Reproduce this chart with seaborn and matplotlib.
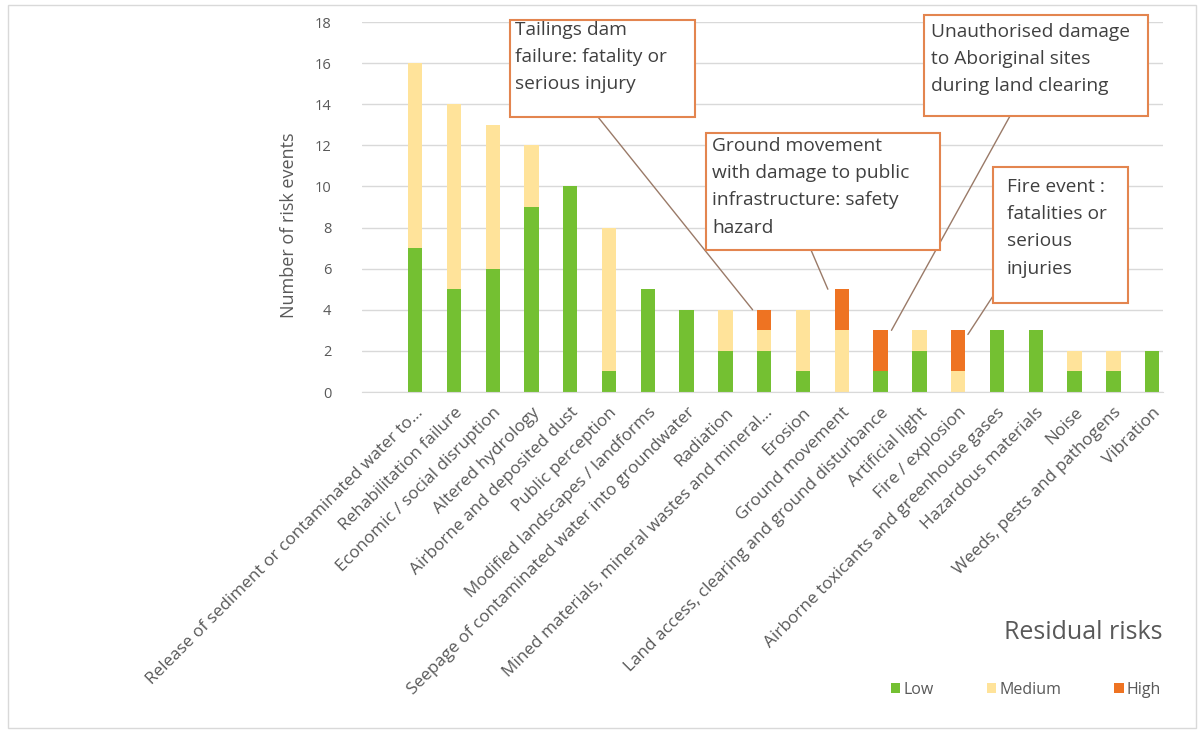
import pandas as pd
import matplotlib.pyplot as plt
import seaborn as sns
from matplotlib.patches import Rectangle

# Residual risk counts per risk category
categories = [
    "Release of sediment or contaminated water to…",
    "Rehabilitation failure",
    "Economic / social disruption",
    "Altered hydrology",
    "Airborne and deposited dust",
    "Public perception",
    "Modified landscapes / landforms",
    "Seepage of contaminated water into groundwater",
    "Radiation",
    "Mined materials, mineral wastes and mineral…",
    "Erosion",
    "Ground movement",
    "Land access, clearing and ground disturbance",
    "Artificial light",
    "Fire / explosion",
    "Airborne toxicants and greenhouse gases",
    "Hazardous materials",
    "Noise",
    "Weeds, pests and pathogens",
    "Vibration",
]
low = [7, 5, 6, 9, 10, 1, 5, 4, 2, 2, 1, 0, 1, 2, 0, 3, 3, 1, 1, 2]
medium = [9, 9, 7, 3, 0, 7, 0, 0, 2, 1, 3, 3, 0, 1, 1, 0, 0, 1, 1, 0]
high = [0, 0, 0, 0, 0, 0, 0, 0, 0, 1, 0, 2, 2, 0, 2, 0, 0, 0, 0, 0]

callout_texts = [
    "Tailings dam\nfailure: fatality or\nserious injury",
    "Ground movement\nwith damage to public\ninfrastructure: safety\nhazard",
    "Unauthorised damage\nto Aboriginal sites\nduring land clearing",
    "Fire event :\nfatalities or\nserious\ninjuries",
]
callout_bars = [9, 11, 12, 14]

df = pd.DataFrame({"category": categories, "Low": low, "Medium": medium, "High": high})
df["lm"] = df["Low"] + df["Medium"]
df["total"] = df["lm"] + df["High"]

c_low, c_med, c_high = "#74c032", "#ffe39a", "#ee7322"
grey = "#595959"

sns.set_style("white")
plt.rcParams["font.family"] = ["Open Sans", "DejaVu Sans"]

W, H = 1200, 734
fig = plt.figure(figsize=(12, 7.34), dpi=100)
ax = fig.add_axes([362 / W, 1 - 392 / H, 801 / W, 370 / H])

# stacked bars drawn back to front
kw = dict(data=df, x="category", width=0.37, saturation=1, linewidth=0, ax=ax)
sns.barplot(y="total", color=c_high, label="High", **kw)
sns.barplot(y="lm", color=c_med, label="Medium", **kw)
sns.barplot(y="Low", color=c_low, label="Low", **kw)
handles, labels = ax.get_legend_handles_labels()
if ax.get_legend() is not None:
    ax.get_legend().remove()

ax.set_ylim(0, 18)
ax.set_yticks(range(0, 19, 2))
ax.set_xlim(-1.37, 19.28)
ax.yaxis.grid(True, color="#d9d9d9", linewidth=1)
ax.set_axisbelow(True)
for s in ["top", "right", "left"]:
    ax.spines[s].set_visible(False)
ax.spines["bottom"].set_color("#d9d9d9")
ax.tick_params(axis="x", length=0, colors=grey, labelsize=12.3, pad=9)
ax.tick_params(axis="y", length=0, colors=grey, labelsize=10.5, pad=22)
plt.setp(ax.get_xticklabels(), rotation=45, ha="right", rotation_mode="anchor")
ax.set_xlabel("")
ax.set_ylabel("Number of risk events", fontsize=13, color=grey)
ax.yaxis.set_label_coords(-0.08, 0.45)

# callout boxes (pixel extents from the reference) and leader lines
boxes = [(510, 20, 695, 117), (706, 133, 940, 250), (924, 15, 1148, 116), (993, 167, 1128, 303)]
text_pad = [(5, 1), (6, 4), (7, 8), (14, 11)]
line_from = [(598, 117), (811, 250), (1010, 116), (993, 296)]
line_to = [(-0.3, 0.0), (-0.36, 0.0), (0.28, 0.0), (0.25, -0.2)]
for txt, idx, (x0, y0, x1, y1), (px, py), (lx, ly), (dx, dy) in zip(
        callout_texts, callout_bars, boxes, text_pad, line_from, line_to):
    top = df["total"][idx]
    ax.annotate("", xy=(idx + dx, top + dy), xycoords="data",
                xytext=(lx / W, 1 - ly / H), textcoords="figure fraction",
                arrowprops=dict(arrowstyle="-", color="#9a7a68", lw=1,
                                shrinkA=0, shrinkB=0))
    fig.patches.append(Rectangle((x0 / W, 1 - y1 / H), (x1 - x0) / W, (y1 - y0) / H,
                                 transform=fig.transFigure, fc="white",
                                 ec="#e3854f", lw=1.5, zorder=3))
    fig.text((x0 + px) / W, 1 - (y0 + py) / H, txt, fontsize=13.8, color="#404040",
             ha="left", va="top", linespacing=1.66, zorder=4)

# legend
order = [labels.index(l) for l in ["Low", "Medium", "High"]]
fig.legend([handles[i] for i in order], [labels[i] for i in order],
           loc="center", bbox_to_anchor=(0.855, 0.06), ncol=3, frameon=False,
           fontsize=11.5, handlelength=0.6, handleheight=0.6, columnspacing=3.3,
           handletextpad=0.2, labelcolor=grey)
fig.text(0.969, 0.138, "Residual risks", fontsize=18, color=grey, ha="right", va="center")

# outer frame
fig.patches.append(Rectangle((0.007, 0.008), 0.99, 0.985, transform=fig.transFigure,
                             fill=False, ec="#d9d9d9", lw=1))

fig.savefig("out.png", dpi=100)
